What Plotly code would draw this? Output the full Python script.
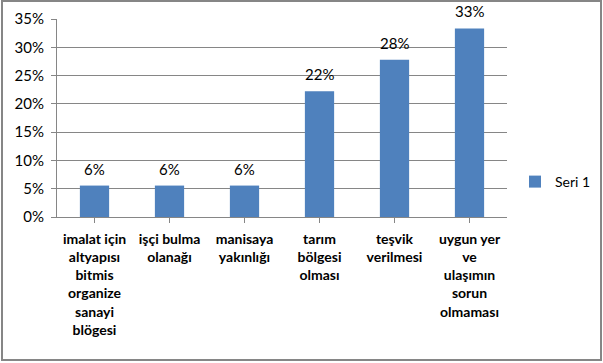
import plotly.graph_objects as go

categories = [
    "imalat için<br>altyapısı<br>bitmis<br>organize<br>sanayi<br>blögesi",
    "işçi bulma<br>olanağı",
    "manisaya<br>yakınlığı",
    "tarım<br>bölgesi<br>olması",
    "teşvik<br>verilmesi",
    "uygun yer<br>ve<br>ulaşımın<br>sorun<br>olmaması",
]
values = [1/18, 1/18, 1/18, 4/18, 5/18, 6/18]
series_name = "Seri 1"
y_ticks = [0, 0.05, 0.10, 0.15, 0.20, 0.25, 0.30, 0.35]

FONT = "Lato"
W, H = 603, 363
L, R, T, B = 57, 96, 19, 146
pw, ph = W - L - R, H - T - B

fig = go.Figure()
fig.add_trace(go.Bar(
    x=list(range(len(categories))), y=values, name=series_name,
    marker=dict(color="#4F81BD", line=dict(width=0)),
    width=0.39, showlegend=True,
))

for i, v in enumerate(values):
    fig.add_annotation(x=i, y=v, text=f"{v*100:.0f}%", showarrow=False,
                       yanchor="bottom", yshift=6,
                       font=dict(family=FONT, size=15, color="black"))

# chart border
fig.add_shape(type="rect", xref="paper", yref="paper",
              x0=(2 - L) / pw, x1=(601 - L) / pw,
              y0=(H - B - 360) / ph, y1=(H - B - 1) / ph,
              line=dict(color="#868686", width=2), layer="below")

fig.update_layout(
    width=W, height=H,
    margin=dict(l=L, r=R, t=T, b=B, pad=0, autoexpand=False),
    paper_bgcolor="white", plot_bgcolor="white",
    font=dict(family=FONT, size=15, color="black"),
    legend=dict(xref="container", yref="container",
                x=515 / W, y=1 - 182 / H, xanchor="left", yanchor="middle",
                font=dict(family=FONT, size=14, color="black"),
                itemwidth=30, bgcolor="rgba(0,0,0,0)"),
    xaxis=dict(
        range=[-0.5, len(categories) - 0.5],
        tickmode="array", tickvals=list(range(len(categories))),
        ticktext=[f"<b>{c}</b>" for c in categories],
        tickfont=dict(family=FONT, size=14, color="black"),
        ticks="outside", tickson="boundaries", ticklen=5, tickcolor="#868686",
        showline=True, linecolor="#868686", linewidth=1,
        showgrid=False, zeroline=False, fixedrange=True,
        ticklabelstandoff=4,
    ),
    yaxis=dict(
        range=[0, 0.35], tickvals=y_ticks, tickformat=".0%",
        tickfont=dict(family=FONT, size=15, color="black"),
        ticks="outside", ticklen=5, tickcolor="#868686",
        showline=True, linecolor="#868686", linewidth=1,
        showgrid=True, gridcolor="#868686", gridwidth=1,
        zeroline=False, fixedrange=True, ticklabelstandoff=4,
    ),
)

fig.write_html("out.html")
